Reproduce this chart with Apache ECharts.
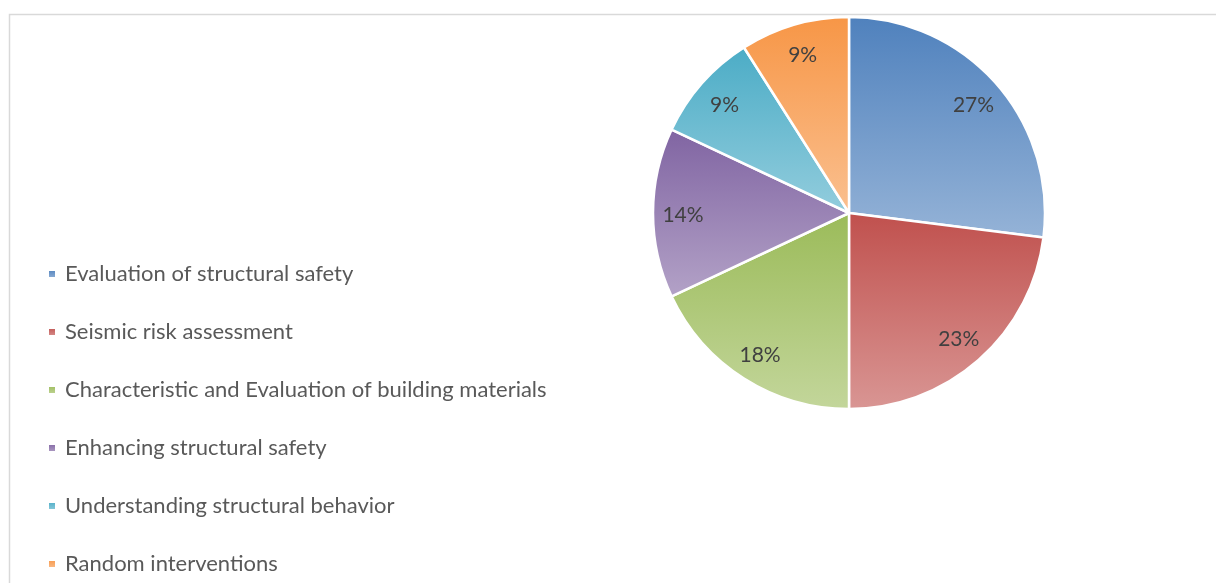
<!DOCTYPE html>
<html><head><meta charset="utf-8">
<script src="https://cdn.jsdelivr.net/npm/echarts@6/dist/echarts.min.js"></script>
<style>html,body{margin:0;padding:0;background:#fff}#c{width:1216px;height:583px}</style>
</head><body><div id="c"></div>
<script>
const categories = ['Evaluation of structural safety','Seismic risk assessment','Characteristic and Evaluation of building materials','Enhancing structural safety','Understanding structural behavior','Random interventions'];
const values = [27, 23, 18, 14, 9, 9];
const darkColors = ['#4F81BD','#C0504D','#9BBB59','#8064A2','#4BACC6','#F79646'];
const lightColors = ['#95B3D7','#D99694','#C3D69B','#B3A2C7','#93CDDD','#FAC090'];

const grad = (i) => new echarts.graphic.LinearGradient(0,0,0,1,[{offset:0,color:darkColors[i]},{offset:1,color:lightColors[i]}]);
const font = 'Lato';
const chart = echarts.init(document.getElementById('c'));
chart.setOption({
  animation:false,
  graphic:[{type:'rect',z:-10,shape:{x:9.5,y:14.5,width:1400,height:800},style:{fill:'none',stroke:'#D9D9D9',lineWidth:1.5},silent:true}],
  legend:{
    orient:'vertical', left:47, top:263, padding:0, itemWidth:8, itemHeight:8, itemGap:36,
    icon:'rect', data:categories,
    textStyle:{fontFamily:font,fontSize:22,color:'#595959',lineHeight:22,padding:[0,0,0,4]}
  },
  series:[{
    type:'pie', center:[849,213], radius:[0,196], startAngle:90, clockwise:true,
    label:{show:false}, labelLine:{show:false}, silent:true,
    itemStyle:{borderColor:'#fff',borderWidth:2.5},
    data: categories.map((n,i)=>({name:n,value:values[i],itemStyle:{color:grad(i)}}))
  },{
    type:'pie', center:[849,215], radius:[130,196], startAngle:90, clockwise:true, silent:true,
    itemStyle:{color:'rgba(0,0,0,0)'},
    label:{show:true,position:'inside',formatter:'{c}%',fontFamily:font,fontSize:21,color:'#404040'},
    labelLine:{show:false},
    data: categories.map((n,i)=>({name:n,value:values[i]}))
  }]
});
</script></body></html>
